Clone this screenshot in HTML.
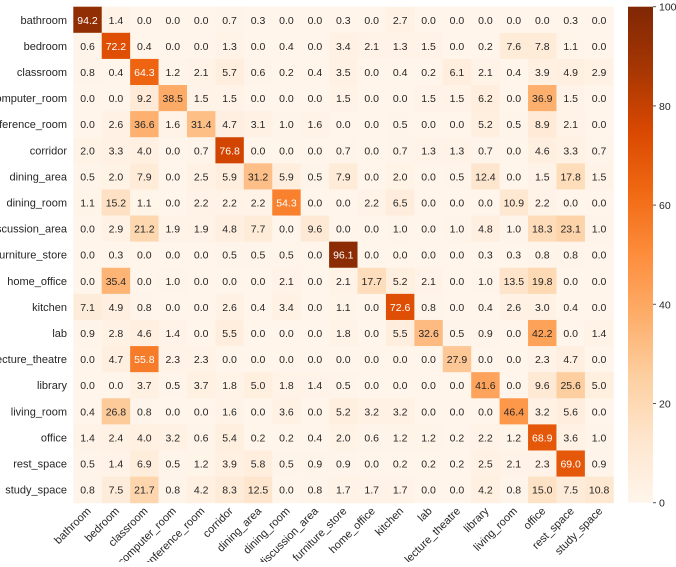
<!DOCTYPE html>
<html><head><meta charset="utf-8"><style>
body{margin:0;background:#fff;font-family:"Liberation Sans",sans-serif;}
svg text{font-family:"Liberation Sans",sans-serif;}
</style></head><body>
<svg id="chart" width="676" height="562">
<defs><linearGradient id="cbg" x1="0" y1="1" x2="0" y2="0">
<stop offset="0" stop-color="#fff5eb"/><stop offset="0.125" stop-color="#fee6ce"/><stop offset="0.25" stop-color="#fdd0a2"/><stop offset="0.375" stop-color="#fdae6b"/><stop offset="0.5" stop-color="#fd8d3c"/><stop offset="0.625" stop-color="#f16913"/><stop offset="0.75" stop-color="#d94801"/><stop offset="0.875" stop-color="#a63603"/><stop offset="1" stop-color="#7f2704"/>
</linearGradient></defs>
<g id="cells"></g>
<g id="ylab"></g>
<g id="xlab"></g>
<rect x="628" y="6.7" width="25" height="496" fill="url(#cbg)"/>
<g id="cbt"></g>
</svg>
<script>
const labels=["bathroom","bedroom","classroom","computer_room","conference_room","corridor","dining_area","dining_room","discussion_area","furniture_store","home_office","kitchen","lab","lecture_theatre","library","living_room","office","rest_space","study_space"];
const r0=[94.2,1.4,0.0,0.0,0.0,0.7,0.3,0.0,0.0,0.3,0.0,2.7,0.0,0.0,0.0,0.0,0.0,0.3,0.0];
const r1=[0.6,72.2,0.4,0.0,0.0,1.3,0.0,0.4,0.0,3.4,2.1,1.3,1.5,0.0,0.2,7.6,7.8,1.1,0.0];
const r2=[0.8,0.4,64.3,1.2,2.1,5.7,0.6,0.2,0.4,3.5,0.0,0.4,0.2,6.1,2.1,0.4,3.9,4.9,2.9];
const r3=[0.0,0.0,9.2,38.5,1.5,1.5,0.0,0.0,0.0,1.5,0.0,0.0,1.5,1.5,6.2,0.0,36.9,1.5,0.0];
const r4=[0.0,2.6,36.6,1.6,31.4,4.7,3.1,1.0,1.6,0.0,0.0,0.5,0.0,0.0,5.2,0.5,8.9,2.1,0.0];
const r5=[2.0,3.3,4.0,0.0,0.7,76.8,0.0,0.0,0.0,0.7,0.0,0.7,1.3,1.3,0.7,0.0,4.6,3.3,0.7];
const r6=[0.5,2.0,7.9,0.0,2.5,5.9,31.2,5.9,0.5,7.9,0.0,2.0,0.0,0.5,12.4,0.0,1.5,17.8,1.5];
const r7=[1.1,15.2,1.1,0.0,2.2,2.2,2.2,54.3,0.0,0.0,2.2,6.5,0.0,0.0,0.0,10.9,2.2,0.0,0.0];
const r8=[0.0,2.9,21.2,1.9,1.9,4.8,7.7,0.0,9.6,0.0,0.0,1.0,0.0,1.0,4.8,1.0,18.3,23.1,1.0];
const r9=[0.0,0.3,0.0,0.0,0.0,0.5,0.5,0.5,0.0,96.1,0.0,0.0,0.0,0.0,0.3,0.3,0.8,0.8,0.0];
const r10=[0.0,35.4,0.0,1.0,0.0,0.0,0.0,2.1,0.0,2.1,17.7,5.2,2.1,0.0,1.0,13.5,19.8,0.0,0.0];
const r11=[7.1,4.9,0.8,0.0,0.0,2.6,0.4,3.4,0.0,1.1,0.0,72.6,0.8,0.0,0.4,2.6,3.0,0.4,0.0];
const r12=[0.9,2.8,4.6,1.4,0.0,5.5,0.0,0.0,0.0,1.8,0.0,5.5,32.6,0.5,0.9,0.0,42.2,0.0,1.4];
const r13=[0.0,4.7,55.8,2.3,2.3,0.0,0.0,0.0,0.0,0.0,0.0,0.0,0.0,27.9,0.0,0.0,2.3,4.7,0.0];
const r14=[0.0,0.0,3.7,0.5,3.7,1.8,5.0,1.8,1.4,0.5,0.0,0.0,0.0,0.0,41.6,0.0,9.6,25.6,5.0];
const r15=[0.4,26.8,0.8,0.0,0.0,1.6,0.0,3.6,0.0,5.2,3.2,3.2,0.0,0.0,0.0,46.4,3.2,5.6,0.0];
const r16=[1.4,2.4,4.0,3.2,0.6,5.4,0.2,0.2,0.4,2.0,0.6,1.2,1.2,0.2,2.2,1.2,68.9,3.6,1.0];
const r17=[0.5,1.4,6.9,0.5,1.2,3.9,5.8,0.5,0.9,0.9,0.0,0.2,0.2,0.2,2.5,2.1,2.3,69.0,0.9];
const r18=[0.8,7.5,21.7,0.8,4.2,8.3,12.5,0.0,0.8,1.7,1.7,1.7,0.0,0.0,4.2,0.8,15.0,7.5,10.8];
const matrix=[r0,r1,r2,r3,r4,r5,r6,r7,r8,r9,r10,r11,r12,r13,r14,r15,r16,r17,r18];
const cbTicks=[0,20,40,60,80,100];
const vmax=100;
const X0=73.3,Y0=6.7,W=540,H=496,n=labels.length,cw=W/n,ch=H/n;
const xs=i=>X0+i*cw, ys=i=>Y0+i*ch;
const stops=[[255,245,235],[254,230,206],[253,208,162],[253,174,107],[253,141,60],[241,105,19],[217,72,1],[166,54,3],[127,39,4]];
function col(v){let t=Math.max(0,Math.min(1,v/vmax))*8;let i=Math.min(7,Math.floor(t)),f=t-i;const a=stops[i],b=stops[i+1];return `rgb(${a.map((c,k)=>Math.round(c+(b[k]-c)*f)).join(',')})`;}
const NS="http://www.w3.org/2000/svg";
function mk(tag,attrs,parent){const e=document.createElementNS(NS,tag);for(const k in attrs)e.setAttribute(k,attrs[k]);parent.appendChild(e);return e;}
const cells=document.getElementById('cells');
matrix.forEach((row,r)=>row.forEach((v,c)=>{
 const rect=mk('rect',{x:xs(c),y:ys(r),width:cw+0.5,height:ch+0.5,fill:col(v)},cells);
 
 
 const t=mk('text',{x:xs(c)+cw/2,y:ys(r)+ch/2+4,'text-anchor':'middle','font-size':'10.5',fill:v>50?'#fff':'#262626'},cells);
 t.textContent=v.toFixed(1);
 
 
}));
const yl=document.getElementById('ylab'),xl=document.getElementById('xlab');
labels.forEach((l,i)=>{
 const t=mk('text',{x:67,y:ys(i)+ch/2+4,'text-anchor':'end','font-size':'11',fill:'#262626'},yl);
 t.textContent=l;
 
 
 const cx=xs(i)+cw/2+4,cy=Y0+H+9;
 const u=mk('text',{x:cx,y:cy,'text-anchor':'end','font-size':'11',fill:'#262626',transform:`rotate(-45 ${cx} ${cy})`},xl);
 u.textContent=l;
 
 
});
const cb=document.getElementById('cbt');
cbTicks.forEach(v=>{
 const y=Y0+H-(v/vmax)*H;
 mk('line',{x1:653,x2:656,y1:y,y2:y,stroke:'#555','stroke-width':1},cb);
 const t=mk('text',{x:659,y:y+4,'font-size':'10.5',fill:'#262626'},cb);
 t.textContent=v;
 
 
});
</script>
</body></html>
